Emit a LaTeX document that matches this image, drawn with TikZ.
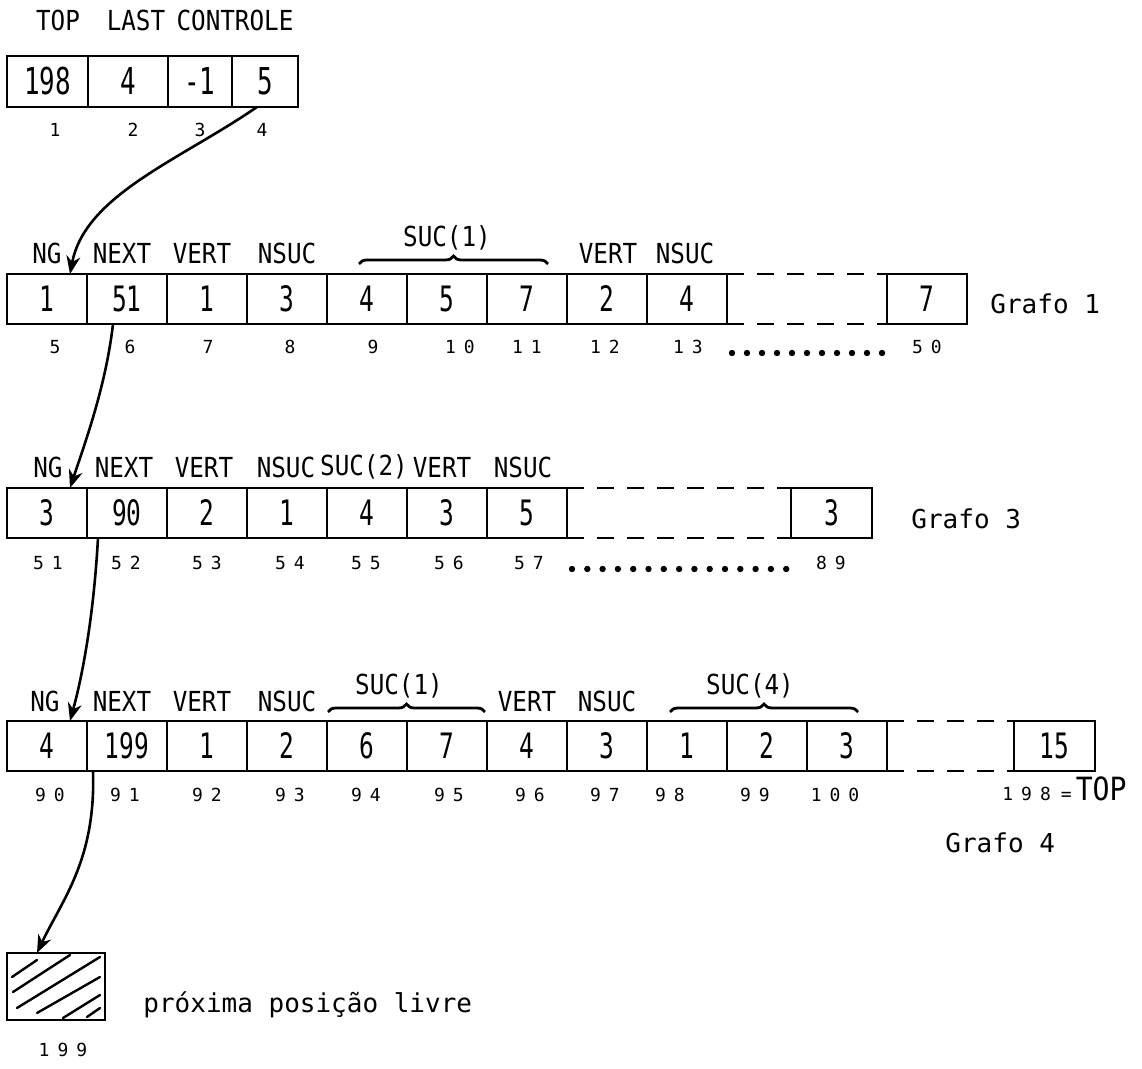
\documentclass[tikz,border=0pt]{standalone}
\usepackage{fontspec}
\usetikzlibrary{arrows.meta,decorations.pathreplacing}
\newfontfamily\labf[FakeStretch=0.88]{DejaVu Sans Mono}
\newfontfamily\valf[FakeStretch=0.7]{DejaVu Sans Mono}
\newfontfamily\idxf{DejaVu Sans Mono}
\newfontfamily\grf{DejaVu Sans Mono}
\def\spreadloop#1{\ifx#1\relax\else#1\kern4pt\expandafter\spreadloop\fi}
\newcommand\spreadidx[1]{\spreadloop#1\relax\unkern}
\begin{document}
\begin{tikzpicture}[x=0.5pt,y=-0.5pt,
  cell/.style={draw, line width=1pt, inner sep=0pt, outer sep=0pt, anchor=north west,
    minimum height=25pt, minimum width=40pt, font=\valf\fontsize{17.5}{17.5}\selectfont},
  topcell/.style={cell, minimum height=25.5pt, font=\valf\fontsize{18.5}{18.5}\selectfont},
  lab/.style={inner sep=0pt, font=\labf\fontsize{13.8}{14}\selectfont},
  grafo/.style={inner sep=0pt, anchor=west, font=\grf\fontsize{13}{14}\selectfont},
  idx/.style={inner sep=0pt, font=\idxf\fontsize{9}{10}\selectfont},
  ptr/.style={line width=1.3pt, -{Stealth[length=9pt,width=7pt]}},
  gap/.style={line width=1pt, dash pattern=on 8.5pt off 6.5pt},
  brc/.style={decorate, decoration={brace, amplitude=4pt}, line width=1.4pt},
  hatch/.style={line width=1.2pt, line cap=round},
  dotm/.style={fill=black}
]
\useasboundingbox (0,0) rectangle (1142,1069);

% ---------- control vector ----------
\node[lab] (lTop) at (58,20) {TOP};
\node[lab] (lLast) at (136,20) {LAST};
\node[lab] (lCtl) at (235,20) {CONTROLE};
\node[topcell, minimum width=40.5pt] (t1) at (7,56) {198};
\node[topcell, minimum width=40pt] (t2) at (88,56) {4};
\node[topcell, minimum width=32pt] (t3) at (168,56) {-1};
\node[topcell, minimum width=33pt] (t4) at (232,56) {5};
\node[idx] (ti1) at (55,130) {1};
\node[idx] (ti2) at (133,130) {2};
\node[idx] (ti3) at (200,130) {3};
\node[idx] (ti4) at (262,130) {4};

% ---------- Grafo 1 ----------
\node[lab] (a1) at (47,253) {NG};
\node[lab] (a2) at (122,253) {NEXT};
\node[lab] (a3) at (202,253) {VERT};
\node[lab] (a4) at (287,253) {NSUC};
\node[lab] (a5) at (447,238) {SUC(1)};
\node[lab] (a6) at (608,253) {VERT};
\node[lab] (a7) at (685,253) {NSUC};
\draw[brc] (359,264) -- (548,264);
\foreach \v [count=\i] in {1,51,1,3,4,5,7,2,4}
  \node[cell] (r1c\i) at ({7+80*(\i-1)},274) {\v};
\node[cell] (r1z) at (887,274) {7};
\draw[gap] (r1c9.north east) -- (r1z.north west);
\draw[gap] (r1c9.south east) -- (r1z.south west);
\node[grafo] (g1) at (990,304) {Grafo 1};
\node[idx] (i5) at (55,347) {5};
\node[idx] (i6) at (130,347) {6};
\node[idx] (i7) at (208,347) {7};
\node[idx] (i8) at (290,347) {8};
\node[idx] (i9) at (373,347) {9};
\node[idx] (i10) at (460,347) {\spreadidx{10}};
\node[idx] (i11) at (527,347) {\spreadidx{11}};
\node[idx] (i12) at (605,347) {\spreadidx{12}};
\node[idx] (i13) at (688,347) {\spreadidx{13}};
\node[idx] (i50) at (927,347) {\spreadidx{50}};
\foreach \k in {0,...,10} \fill[dotm] ({732+15*\k},353) circle (1.6pt);

% ---------- Grafo 3 ----------
\node[lab] (b1) at (48,467) {NG};
\node[lab] (b2) at (124,467) {NEXT};
\node[lab] (b3) at (204,467) {VERT};
\node[lab] (b4) at (286,467) {NSUC};
\node[lab] (b5) at (364,467) {SUC(2)};
\node[lab] (b6) at (442,467) {VERT};
\node[lab] (b7) at (523,467) {NSUC};
\foreach \v [count=\i] in {3,90,2,1,4,3,5}
  \node[cell] (r2c\i) at ({7+80*(\i-1)},488) {\v};
\node[cell, minimum width=40.5pt] (r2z) at (791,488) {3};
\draw[gap] (r2c7.north east) -- (r2z.north west);
\draw[gap] (r2c7.south east) -- (r2z.south west);
\node[grafo] (g3) at (911,519) {Grafo 3};
\node[idx] (j51) at (48,563) {\spreadidx{51}};
\node[idx] (j52) at (126,563) {\spreadidx{52}};
\node[idx] (j53) at (207,563) {\spreadidx{53}};
\node[idx] (j54) at (290,563) {\spreadidx{54}};
\node[idx] (j55) at (366,563) {\spreadidx{55}};
\node[idx] (j56) at (449,563) {\spreadidx{56}};
\node[idx] (j57) at (529,563) {\spreadidx{57}};
\node[idx] (j89) at (831,563) {\spreadidx{89}};
\foreach \k in {0,...,14} \fill[dotm] ({572+15.3*\k},569) circle (1.6pt);

% ---------- Grafo 4 ----------
\node[lab] (c1) at (45,701) {NG};
\node[lab] (c2) at (122,701) {NEXT};
\node[lab] (c3) at (202,701) {VERT};
\node[lab] (c4) at (287,701) {NSUC};
\node[lab] (c5) at (399,686) {SUC(1)};
\node[lab] (c6) at (527,701) {VERT};
\node[lab] (c7) at (607,701) {NSUC};
\node[lab] (c8) at (750,686) {SUC(4)};
\draw[brc] (328,712) -- (485,712);
\draw[brc] (670,712) -- (858,712);
\foreach \v [count=\i] in {4,199,1,2,6,7,4,3,1,2,3}
  \node[cell] (r3c\i) at ({7+80*(\i-1)},721) {\v};
\node[cell, minimum width=40.5pt] (r3z) at (1014,721) {15};
\draw[gap] (r3c11.north east) -- (r3z.north west);
\draw[gap] (r3c11.south east) -- (r3z.south west);
\node[idx] (k90) at (50,795) {\spreadidx{90}};
\node[idx] (k91) at (125,795) {\spreadidx{91}};
\node[idx] (k92) at (207,795) {\spreadidx{92}};
\node[idx] (k93) at (290,795) {\spreadidx{93}};
\node[idx] (k94) at (366,795) {\spreadidx{94}};
\node[idx] (k95) at (449,795) {\spreadidx{95}};
\node[idx] (k96) at (530,795) {\spreadidx{96}};
\node[idx] (k97) at (605,795) {\spreadidx{97}};
\node[idx] (k98) at (670,795) {\spreadidx{98}};
\node[idx] (k99) at (755,795) {\spreadidx{99}};
\node[idx] (k100) at (835,795) {\spreadidx{100}};
\node[inner sep=0pt, anchor=base west] (ktop) at (1002,801)
  {{\idxf\fontsize{9}{10}\selectfont\spreadidx{198}\kern5pt=\kern2pt}{\labf\fontsize{16}{16}\selectfont TOP}};
\node[grafo] (g4) at (945,843) {Grafo 4};

% ---------- free position ----------
\node[draw, line width=1pt, inner sep=0pt, outer sep=0pt, anchor=north west,
  minimum width=49pt, minimum height=33.5pt] (free) at (7,953) {};
\draw[hatch] (12,977) -- (37,960);
\draw[hatch] (13,992) -- (70,955);
\draw[hatch] (17,1008) -- (100,957);
\draw[hatch] (37,1013) -- (100,977);
\draw[hatch] (63,1018) -- (100,995);
\draw[hatch] (87,1017) -- (100,1008);
\node[grafo] (freetxt) at (143,1005) {próxima posição livre};
\node[idx] (i199) at (63,1050) {\spreadidx{199}};

% ---------- pointers ----------
\coordinate (p0) at (257,107);
\coordinate (q1) at (70,274);
\coordinate (p1) at (113,324);
\coordinate (q2) at (70,488);
\coordinate (p2) at (98,538);
\coordinate (q3) at (70,721);
\coordinate (p3) at (93,771);
\coordinate (q4) at (37,953);
\draw[ptr] (p0) .. controls (180,160) and (85,195) .. (q1);
\draw[ptr] (p1) .. controls (106,385) and (86,440) .. (q2);
\draw[ptr] (p2) .. controls (94,610) and (84,670) .. (q3);
\draw[ptr] (p3) .. controls (96,860) and (62,900) .. (q4);
\end{tikzpicture}
\end{document}
